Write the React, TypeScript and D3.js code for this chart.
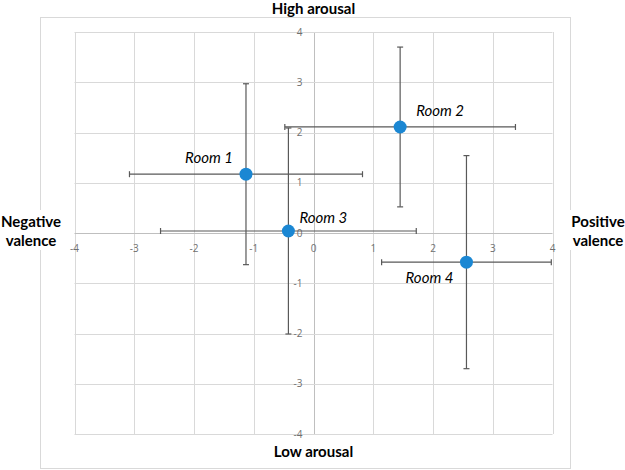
import { useEffect, useRef } from "react";
import * as d3 from "d3";

const rooms = ["Room 1", "Room 2", "Room 3", "Room 4"];
const valence = [-1.13, 1.45, -0.42, 2.56];
const arousal = [1.17, 2.11, 0.04, -0.58];
const valenceErr = [1.95, 1.93, 2.14, 1.42];
const arousalErr = [1.8, 1.59, 2.05, 2.12];
const ticks = [-4, -3, -2, -1, 0, 1, 2, 3, 4];

const App = () => {
  const ref = useRef<SVGSVGElement>(null);

  useEffect(() => {
    const svg = d3.select(ref.current);
    svg.selectAll("*").remove();

    const x = d3.scaleLinear().domain([-4, 4]).range([74.5, 552.5]);
    const y = d3.scaleLinear().domain([-4, 4]).range([434, 32]);
    const gray = "#d9d9d9";

    // outer chart frame
    svg
      .append("rect")
      .attr("x", 40.5)
      .attr("y", 17.5)
      .attr("width", 530)
      .attr("height", 451)
      .attr("fill", "#fff")
      .attr("stroke", gray);

    // grid
    const grid = svg.append("g");
    grid
      .selectAll("line.v")
      .data(ticks)
      .join("line")
      .attr("x1", d => Math.round(x(d)) + 0.5)
      .attr("x2", d => Math.round(x(d)) + 0.5)
      .attr("y1", y(4))
      .attr("y2", y(-4))
      .attr("stroke", d => (d === 0 ? "#bfbfbf" : gray));
    grid
      .selectAll("line.h")
      .data(ticks)
      .join("line")
      .attr("class", "h")
      .attr("y1", d => Math.round(y(d)) + 0.5)
      .attr("y2", d => Math.round(y(d)) + 0.5)
      .attr("x1", x(-4))
      .attr("x2", x(4))
      .attr("stroke", d => (d === 0 ? "#bfbfbf" : gray));

    // tick labels
    const tickFont = "'Open Sans', sans-serif";
    svg
      .append("g")
      .selectAll("text")
      .data(ticks)
      .join("text")
      .attr("x", d => x(d))
      .attr("y", y(0) + 15)
      .attr("dy", "0.35em")
      .attr("text-anchor", "middle")
      .attr("font-family", tickFont)
      .attr("font-size", 10)
      .attr("fill", "#6f6f6f")
      .text(d => d);
    svg
      .append("g")
      .selectAll("text")
      .data(ticks)
      .join("text")
      .attr("x", x(0) - 11)
      .attr("y", d => y(d))
      .attr("dy", "0.35em")
      .attr("text-anchor", "end")
      .attr("font-family", tickFont)
      .attr("font-size", 10)
      .attr("fill", "#6f6f6f")
      .text(d => d);

    // error bars
    const idx = d3.range(rooms.length);
    const eb = svg.append("g").attr("stroke", "#595959").attr("stroke-width", 1.2);
    idx.forEach(i => {
      const cx = x(valence[i]);
      const cy = y(arousal[i]);
      const x0 = x(valence[i] - valenceErr[i]);
      const x1 = x(valence[i] + valenceErr[i]);
      const y0 = y(arousal[i] - arousalErr[i]);
      const y1 = y(arousal[i] + arousalErr[i]);
      eb.append("line").attr("x1", x0).attr("x2", x1).attr("y1", cy).attr("y2", cy);
      eb.append("line").attr("x1", x0).attr("x2", x0).attr("y1", cy - 3).attr("y2", cy + 3);
      eb.append("line").attr("x1", x1).attr("x2", x1).attr("y1", cy - 3).attr("y2", cy + 3);
      eb.append("line").attr("x1", cx).attr("x2", cx).attr("y1", y0).attr("y2", y1);
      eb.append("line").attr("x1", cx - 3).attr("x2", cx + 3).attr("y1", y0).attr("y2", y0);
      eb.append("line").attr("x1", cx - 3).attr("x2", cx + 3).attr("y1", y1).attr("y2", y1);
    });

    // points
    svg
      .append("g")
      .selectAll("circle")
      .data(idx)
      .join("circle")
      .attr("cx", i => x(valence[i]))
      .attr("cy", i => y(arousal[i]))
      .attr("r", 6.5)
      .attr("fill", "#1b87d3");

    // point labels
    const place = [
      { dx: -13, dy: -11, anchor: "end" },
      { dx: 16, dy: -11, anchor: "start" },
      { dx: 11, dy: -8, anchor: "start" },
      { dx: -13, dy: 21, anchor: "end" },
    ];
    svg
      .append("g")
      .selectAll("text")
      .data(idx)
      .join("text")
      .attr("x", i => x(valence[i]) + place[i].dx)
      .attr("y", i => y(arousal[i]) + place[i].dy)
      .attr("text-anchor", i => place[i].anchor)
      .attr("font-family", "Lato, sans-serif")
      .attr("font-style", "italic")
      .attr("font-size", 15)
      .attr("fill", "#000")
      .text(i => rooms[i]);

    // quadrant titles
    const titleFont = "Lato, sans-serif";
    const title = (tx: number, ty: number, lines: string[], bg: boolean) => {
      const g = svg.append("g");
      if (bg) {
        g.append("rect")
          .attr("x", tx - 32)
          .attr("y", ty - 12)
          .attr("width", 64)
          .attr("height", 40)
          .attr("fill", "#fff");
      }
      const t = g
        .append("text")
        .attr("text-anchor", "middle")
        .attr("font-family", titleFont)
        .attr("font-weight", "bold")
        .attr("font-size", 15)
        .attr("fill", "#000");
      lines.forEach((l, k) => {
        t.append("tspan")
          .attr("x", tx)
          .attr("y", ty + k * 19)
          .attr("dy", "0.35em")
          .text(l);
      });
    };
    title(x(0), 9, ["High arousal"], false);
    title(x(0), 452, ["Low arousal"], false);
    title(31, 222, ["Negative", "valence"], true);
    title(598, 222, ["Positive", "valence"], true);
  }, []);

  return (
    <svg
      ref={ref}
      width={625}
      height={470}
      style={{ position: "absolute", left: 0, top: 0, background: "#fff" }}
    />
  );
};

export default App;
